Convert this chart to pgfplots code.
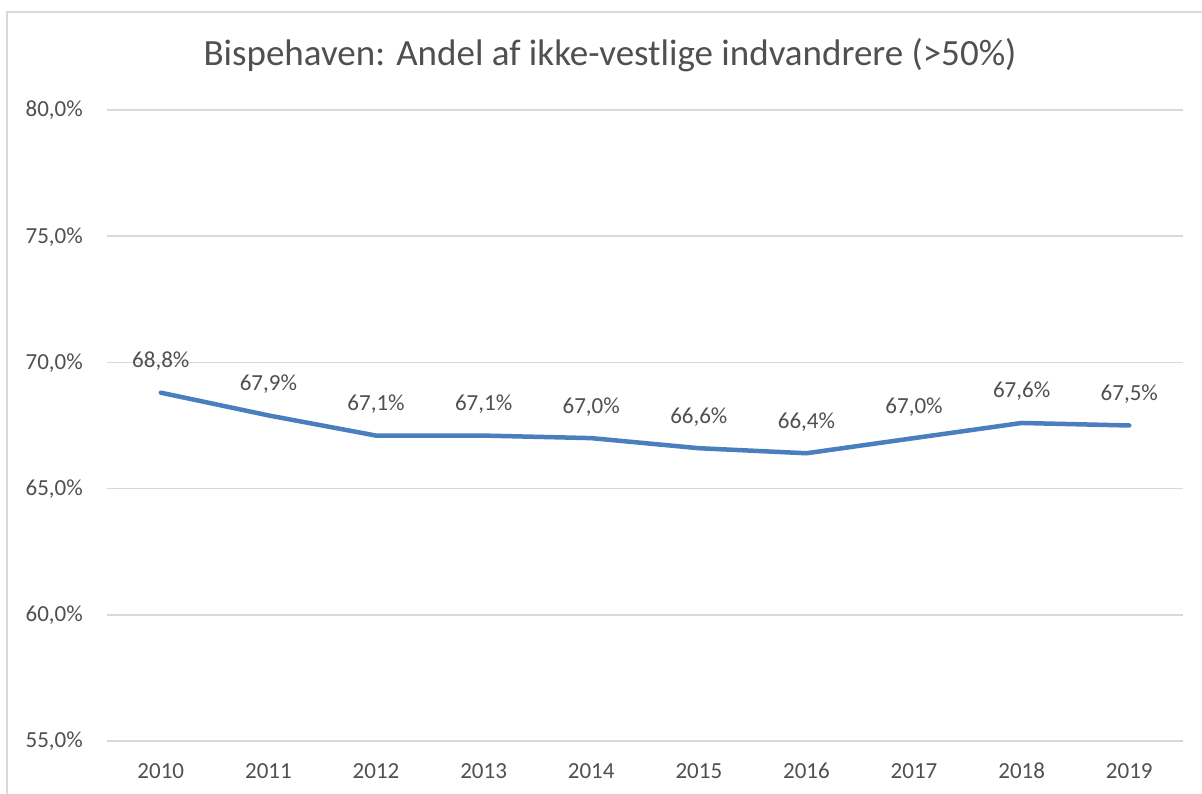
\documentclass[border=0pt]{standalone}
\usepackage{fontspec}
\setmainfont{Carlito}
\usepackage{pgfplots}
\pgfplotsset{compat=1.18}
\definecolor{txt}{HTML}{505050}
\definecolor{gridc}{HTML}{D9D9D9}
\definecolor{ln}{HTML}{4A7EBF}
\begin{document}
\begin{tikzpicture}
\useasboundingbox (0pt,0pt) rectangle (1202pt,794pt);
\fill[white] (0pt,0pt) rectangle (1202pt,794pt);
\draw[gridc, line width=1.5pt] (7pt,0pt) -- (7pt,782pt) -- (1202pt,782pt);
\node[txt, anchor=base, inner sep=0, font=\fontsize{37}{41}\selectfont] at (610pt,728pt) {Bispehaven: Andel af ikke-vestlige indvandrere (>50\%)};
\begin{axis}[
  at={(107pt,53pt)}, anchor=south west, scale only axis,
  width=1076pt, height=631pt,
  xmin=-0.5, xmax=9.5, ymin=55, ymax=80,
  ytick={55,60,65,70,75,80},
  xtick={0,...,9},
  xticklabels={2010,2011,2012,2013,2014,2015,2016,2017,2018,2019},
  axis line style={draw=none},
  major tick length=0pt,
  ymajorgrids,
  grid style={gridc, line width=1.5pt},
  /pgf/number format/assume math mode=true,
  yticklabel={\pgfmathprintnumber[fixed,fixed zerofill,precision=1,use comma]{\tick}\%},
  ticklabel style={font=\fontsize{23}{27}\selectfont, text=txt, inner sep=0pt},
  yticklabel style={anchor=base east, xshift=-24pt, yshift=-7pt},
  xticklabel style={anchor=base, yshift=-38pt},
  clip=false,
]
\addplot[ln, line width=4.5pt, line join=round, line cap=round,
  nodes near coords={\pgfmathprintnumber[fixed,fixed zerofill,precision=1,use comma]{\pgfplotspointmeta}\%},
  every node near coord/.append style={anchor=base, inner sep=0pt, yshift=25pt, text=txt, font=\fontsize{23}{27}\selectfont},
] coordinates {
(0,68.8) (1,67.9) (2,67.1) (3,67.1) (4,67.0) (5,66.6) (6,66.4) (7,67.0) (8,67.6) (9,67.5)
};
\end{axis}
\end{tikzpicture}
\end{document}
